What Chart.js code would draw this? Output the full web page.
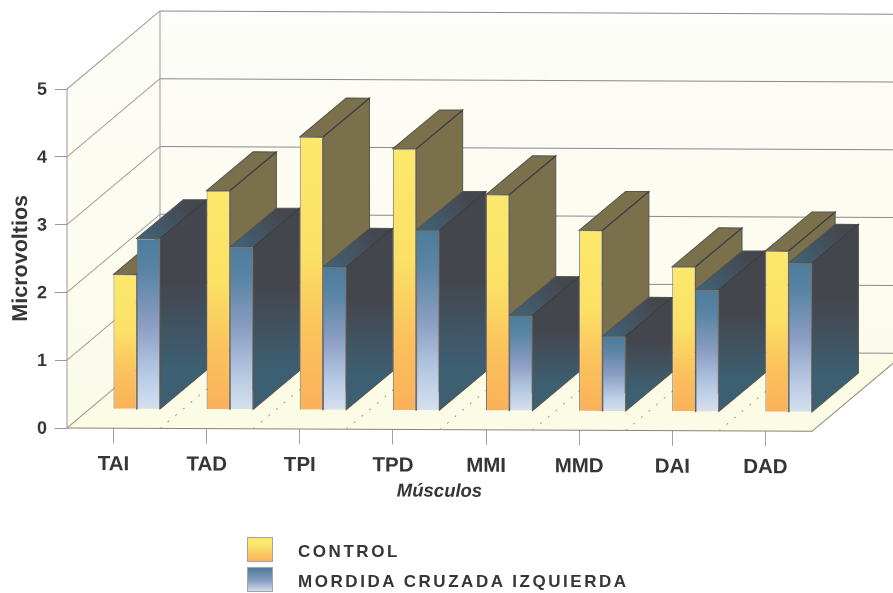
<!DOCTYPE html>
<html>
<head>
<meta charset="utf-8">
<script src="https://cdn.jsdelivr.net/npm/chart.js@4/dist/chart.umd.min.js"></script>
<style>
  html, body { margin: 0; padding: 0; background: #fff; overflow: hidden; }
  #wrap { position: relative; width: 893px; height: 593px; }
  .legend-row { position: absolute; left: 247px; display: flex; align-items: center; height: 25px;
    font: bold 17px "Liberation Sans", sans-serif; letter-spacing: 2.55px; color: #35353a; white-space: nowrap; }
  .legend-box { width: 26px; height: 25px; margin-right: 25px; border: 1px solid #a8a29a; box-sizing: border-box; }
  .legend-text { position: relative; top: 2px; }
</style>
</head>
<body>
<div id="wrap">
  <canvas id="chart" width="893" height="593"></canvas>
</div>
<script>
const categories = ["TAI", "TAD", "TPI", "TPD", "MMI", "MMD", "DAI", "DAD"];
const controlValues = [1.99, 3.23, 4.03, 3.86, 3.19, 2.67, 2.14, 2.38];
const mordidaValues = [2.52, 2.4, 2.11, 2.66, 1.41, 1.11, 1.8, 2.2];
const yTicks = [0, 1, 2, 3, 4, 5];

// picture is a slightly tilted scan, everything gets this shear
const TILT = 0.0045;
const WALL_DX = 93, WALL_DY = -78.5;
const BAR_DX = 46.5, BAR_DY = -39;
const BAR_SHIFT_X = 23.2, BAR_SHIFT_Y = -19;

const palette = [
  {
    front: [[0, "#fbe96c"], [0.42, "#fbe166"], [0.72, "#fbc25c"], [1, "#fbb15a"]],
    sideTop: "#7b704c", sideBottom: "#7b704c", topFront: "#7b704c", topBack: "#7b704c"
  },
  {
    front: [[0, "#4c7c9c"], [0.2, "#5a85a4"], [0.5, "#8a9dc2"], [0.8, "#b8cbe4"], [1, "#d6e0ee"]],
    sideTop: "#44464e", sideBottom: "#3d5f72", topFront: "#3f6479", topBack: "#45474f"
  }
];

function frontGradient(context) {
  const colors = palette[context.datasetIndex];
  const y = context.chart.scales.y;
  if (context.type !== "data" || !y) return colors.front[0][1];
  const top = y.getPixelForValue(context.raw), bottom = y.getPixelForValue(0);
  // scales have no pixels yet on the first resolve
  if (!Number.isFinite(top) || !Number.isFinite(bottom)) return colors.front[0][1];
  const g = context.chart.ctx.createLinearGradient(0, top, 0, bottom);
  colors.front.forEach(s => g.addColorStop(s[0], s[1]));
  return g;
}

const shearPlugin = {
  id: "shear",
  beforeDraw(chart) {
    const ctx = chart.ctx;
    ctx.save();
    ctx.transform(1, TILT, 0, 1, 0, -TILT * chart.chartArea.left);
  },
  afterDraw(chart) {
    chart.ctx.restore();
  }
};

function poly(ctx, pts, fill, stroke) {
  ctx.beginPath();
  pts.forEach((p, i) => i ? ctx.lineTo(p[0], p[1]) : ctx.moveTo(p[0], p[1]));
  ctx.closePath();
  if (fill) { ctx.fillStyle = fill; ctx.fill(); }
  if (stroke) { ctx.strokeStyle = stroke; ctx.stroke(); }
}

// back wall, side wall and floor
const wallsPlugin = {
  id: "walls",
  beforeDatasetsDraw(chart) {
    const ctx = chart.ctx, yS = chart.scales.y, xS = chart.scales.x;
    const l = xS.left, r = xS.right, far = r + 120;
    const y0 = yS.getPixelForValue(0), y5 = yS.getPixelForValue(5);
    ctx.save();
    ctx.lineWidth = 1;

    const wall = ctx.createLinearGradient(0, y5 + WALL_DY, 0, y0);
    wall.addColorStop(0, "#fdfdf9");
    wall.addColorStop(1, "#fbfbe9");
    poly(ctx, [[l, y0], [l, y5], [l + WALL_DX, y5 + WALL_DY], [l + WALL_DX, y0 + WALL_DY]], wall);
    poly(ctx, [[l + WALL_DX, y5 + WALL_DY], [far, y5 + WALL_DY], [far, y0 + WALL_DY], [l + WALL_DX, y0 + WALL_DY]], wall);
    poly(ctx, [[l, y0], [r, y0], [r + WALL_DX, y0 + WALL_DY], [l + WALL_DX, y0 + WALL_DY]], "#fbfbe6");

    yTicks.forEach(v => {
      const y = yS.getPixelForValue(v);
      ctx.strokeStyle = "#ab9c90";
      ctx.beginPath();
      ctx.moveTo(l, y);
      ctx.lineTo(l + WALL_DX, y + WALL_DY);
      ctx.stroke();
      ctx.strokeStyle = "#8f8790";
      ctx.beginPath();
      ctx.moveTo(l + WALL_DX, y + WALL_DY);
      ctx.lineTo(far, y + WALL_DY);
      ctx.stroke();
    });

    ctx.strokeStyle = "#9c94a0";
    ctx.beginPath();
    ctx.moveTo(l, y5); ctx.lineTo(l, y0);
    ctx.moveTo(l + WALL_DX, y5 + WALL_DY); ctx.lineTo(l + WALL_DX, y0 + WALL_DY);
    ctx.stroke();

    ctx.strokeStyle = "#8a8478";
    ctx.beginPath();
    ctx.moveTo(l, y0); ctx.lineTo(r, y0); ctx.lineTo(r + WALL_DX, y0 + WALL_DY);
    ctx.stroke();

    // dashed floor lines between the groups
    ctx.strokeStyle = "#a89f7c";
    ctx.setLineDash([2, 8]);
    categories.forEach((c, i) => {
      const x = xS.getPixelForValue(i) + 46.5;
      ctx.beginPath();
      ctx.moveTo(x, y0);
      ctx.lineTo(x + WALL_DX, y0 + WALL_DY);
      ctx.stroke();
    });
    ctx.restore();
  }
};

// extrudes the bars: all sides and tops first, chart.js paints the fronts after that.
// chart.js draws the last dataset first, so this can't go in beforeDatasetDraw
const depthPlugin = {
  id: "depth",
  beforeDatasetsDraw(chart) {
    const ctx = chart.ctx;
    ctx.save();
    ctx.translate(BAR_SHIFT_X, BAR_SHIFT_Y);
    ctx.lineWidth = 1;
    palette.forEach((colors, index) => {
      chart.getDatasetMeta(index).data.forEach(bar => {
        const left = bar.x - bar.width / 2, right = bar.x + bar.width / 2, top = bar.y, base = bar.base;

        const side = ctx.createLinearGradient(0, top + BAR_DY, 0, base);
        side.addColorStop(0, colors.sideTop);
        side.addColorStop(0.4, colors.sideTop);
        side.addColorStop(0.8, colors.sideBottom);
        side.addColorStop(1, colors.sideBottom);
        poly(ctx, [[right, top], [right + BAR_DX, top + BAR_DY], [right + BAR_DX, base + BAR_DY], [right, base]], side, "#55534e");

        const lid = ctx.createLinearGradient(left, top, left + BAR_DX, top + BAR_DY);
        lid.addColorStop(0, colors.topFront);
        lid.addColorStop(1, colors.topBack);
        poly(ctx, [[left, top], [left + BAR_DX, top + BAR_DY], [right + BAR_DX, top + BAR_DY], [right, top]], lid, "#55534e");

        ctx.strokeStyle = "#3a3a3e";
        ctx.beginPath();
        ctx.moveTo(right, top);
        ctx.lineTo(right + BAR_DX, top + BAR_DY);
        ctx.stroke();
      });
    });
    ctx.restore();
  },
  beforeDatasetDraw(chart) {
    chart.ctx.save();
    chart.ctx.translate(BAR_SHIFT_X, BAR_SHIFT_Y);
  },
  afterDatasetDraw(chart) {
    chart.ctx.restore();
  }
};

const barStyle = {
  clip: false,
  barPercentage: 1,
  categoryPercentage: 0.5,
  backgroundColor: frontGradient,
  borderColor: "#77757a",
  borderWidth: 1
};

const chart = new Chart(document.getElementById("chart"), {
  type: "bar",
  data: {
    labels: categories,
    datasets: [
      { label: "CONTROL", data: controlValues, ...barStyle },
      { label: "MORDIDA CRUZADA IZQUIERDA", data: mordidaValues, ...barStyle }
    ]
  },
  plugins: [shearPlugin, wallsPlugin, depthPlugin],
  options: {
    responsive: false,
    animation: false,
    layout: { padding: { left: 0, top: 89, right: 81, bottom: 0 } },
    plugins: { legend: { display: false }, title: { display: false }, tooltip: { enabled: false } },
    scales: {
      x: {
        afterFit(scale) { scale.height = 165; },
        grid: { offset: false, drawOnChartArea: false, drawTicks: true, tickLength: 15, color: "#a79ea8" },
        border: { display: false },
        ticks: {
          maxRotation: 0, autoSkip: false, padding: 9, color: "#35353a",
          font: { family: "Liberation Sans", size: 20.5, weight: "bold" }
        },
        title: {
          display: true, text: "Músculos", color: "#35353a",
          padding: { top: 0, bottom: 92 },
          font: { family: "Liberation Sans", size: 18.5, weight: "bold", style: "italic" }
        }
      },
      y: {
        min: 0,
        max: 5,
        afterFit(scale) { scale.width = 67; },
        afterBuildTicks(scale) { scale.ticks = yTicks.map(v => ({ value: v })); },
        grid: { drawOnChartArea: false, drawTicks: true, tickLength: 12, color: "#a7909c" },
        border: { display: false },
        ticks: {
          padding: 8, color: "#35353a", labelOffset: 1,
          font: { family: "Liberation Sans", size: 18, weight: "bold" }
        },
        title: {
          display: true, text: "Microvoltios", color: "#35353a",
          padding: { top: 8, bottom: 0 },
          font: { family: "Liberation Sans", size: 21.5, weight: "bold" }
        }
      }
    }
  }
});

// legend sits below the chart, stacked, so it is plain html built from the datasets
const swatches = ["linear-gradient(#fbe96c 25%, #fbb15a)", "linear-gradient(#4c7c9c, #8a9dc2 55%, #cfdcee)"];
const legendTops = [537, 567];
chart.data.datasets.forEach((ds, i) => {
  const row = document.createElement("div");
  row.className = "legend-row";
  row.style.top = legendTops[i] + "px";
  const box = document.createElement("span");
  box.className = "legend-box";
  box.style.background = swatches[i];
  row.appendChild(box);
  const text = document.createElement("span");
  text.className = "legend-text";
  text.textContent = ds.label;
  row.appendChild(text);
  document.getElementById("wrap").appendChild(row);
});
</script>
</body>
</html>
